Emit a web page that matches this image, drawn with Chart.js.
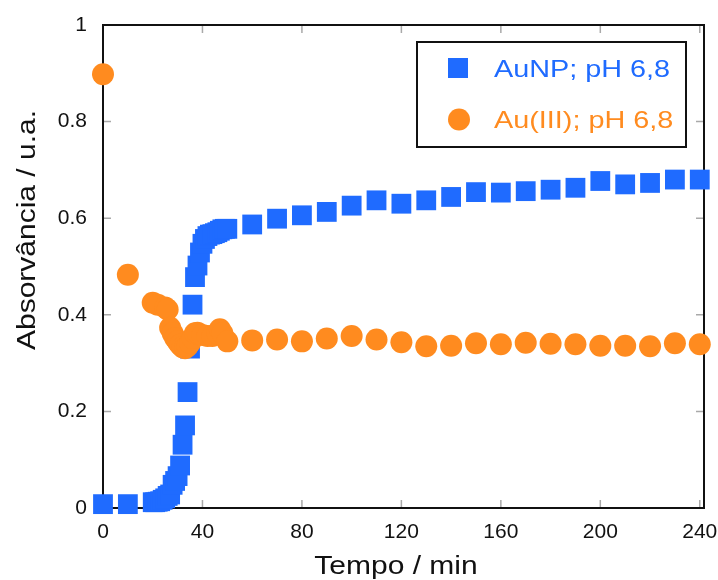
<!DOCTYPE html>
<html>
<head>
<meta charset="utf-8">
<title>Absorvância vs tempo</title>
<script src="https://cdn.jsdelivr.net/npm/chart.js@4.4.1/dist/chart.umd.min.js"></script>
<style>
  html, body { margin: 0; padding: 0; background: #fff; }
  #wrap { width: 718px; height: 580px; }
</style>
</head>
<body>
<div id="wrap"><canvas id="absChart" width="718" height="580"></canvas></div>
<script>
// series labels and axis titles
const seriesLabels = ['AuNP; pH 6,8', 'Au(III); pH 6,8'];
const xTitle = 'Tempo / min';
const yTitle = 'Absorvância / u.a.';

// AuNP (blue squares)
const aunpTime = [0, 10, 20, 21, 22, 23, 24, 25, 26, 27, 28, 29, 30, 31, 32, 33, 34, 35, 36, 37, 38, 39, 40,
  41, 42, 43, 44, 45, 46, 47, 48, 49, 50, 60, 70, 80, 90, 100, 110, 120, 130, 140, 150, 160, 170, 180, 190,
  200, 210, 220, 230, 240];
const aunpAbs = [0.008, 0.008, 0.012, 0.012, 0.013, 0.014, 0.017, 0.020, 0.025, 0.028, 0.048, 0.056, 0.066,
  0.088, 0.131, 0.171, 0.240, 0.330, 0.421, 0.478, 0.502, 0.529, 0.547, 0.557, 0.563, 0.566, 0.567, 0.569,
  0.571, 0.574, 0.577, 0.578, 0.578, 0.587, 0.599, 0.606, 0.613, 0.626, 0.637, 0.630, 0.637, 0.644, 0.654,
  0.653, 0.656, 0.659, 0.663, 0.677, 0.670, 0.673, 0.680, 0.680];

// Au(III) (orange circles)
const au3Time = [0, 10, 20, 22, 25, 26, 27, 28, 29, 30, 31, 32, 33, 34, 35, 36, 37, 38, 40, 42, 44, 46, 47,
  48, 50, 60, 70, 80, 90, 100, 110, 120, 130, 140, 150, 160, 170, 180, 190, 200, 210, 220, 230, 240];
const au3Abs = [0.898, 0.483, 0.425, 0.421, 0.415, 0.411, 0.373, 0.362, 0.352, 0.345, 0.338, 0.333, 0.331,
  0.335, 0.342, 0.352, 0.362, 0.363, 0.358, 0.356, 0.356, 0.362, 0.370, 0.362, 0.345, 0.347, 0.349, 0.345,
  0.351, 0.356, 0.349, 0.343, 0.335, 0.336, 0.341, 0.339, 0.342, 0.340, 0.339, 0.336, 0.336, 0.335, 0.341,
  0.339];

const xTicks = [0, 40, 80, 120, 160, 200, 240];
const yTicks = [0, 0.2, 0.4, 0.6, 0.8, 1];

const blue = '#1f6bff';
const orange = '#ff8b1f';
const fontFam = '"Liberation Sans", Arial, Helvetica, sans-serif';
const stretch = 1.2;

Chart.defaults.font.family = fontFam;

function toPoints(xs, ys) {
  return xs.map((t, i) => ({ x: t, y: ys[i] }));
}

// text is a bit wider in the original, so stretch it horizontally
function wideText(ctx, text, x, y, size, color, align, rotate) {
  ctx.save();
  ctx.translate(x, y);
  if (rotate) ctx.rotate(-Math.PI / 2);
  ctx.scale(stretch, 1);
  ctx.font = size + 'px ' + fontFam;
  ctx.fillStyle = color;
  ctx.textAlign = align;
  ctx.textBaseline = 'alphabetic';
  ctx.fillText(text, 0, 0);
  ctx.restore();
}

// frame, inward ticks on all four sides, legend box and axis titles
const framePlugin = {
  id: 'framePlugin',
  beforeDatasetsDraw(chart) {
    const { ctx, chartArea: a, scales: { x, y } } = chart;
    const len = 8;
    ctx.save();
    ctx.strokeStyle = '#a9a9a9';
    ctx.lineWidth = 1.5;
    ctx.beginPath();
    x.ticks.forEach(t => {
      const px = x.getPixelForValue(t.value);
      ctx.moveTo(px, a.bottom); ctx.lineTo(px, a.bottom - len);
      ctx.moveTo(px, a.top); ctx.lineTo(px, a.top + len);
    });
    y.ticks.forEach(t => {
      const py = y.getPixelForValue(t.value);
      ctx.moveTo(a.left, py); ctx.lineTo(a.left + len, py);
      ctx.moveTo(a.right, py); ctx.lineTo(a.right - len, py);
    });
    ctx.stroke();
    ctx.strokeStyle = '#111';
    ctx.lineWidth = 2;
    ctx.strokeRect(a.left, a.top, a.right - a.left, a.bottom - a.top);
    ctx.restore();
  },
  afterDraw(chart) {
    const { ctx, chartArea: a } = chart;
    // legend
    const bx = a.right - 287, by = a.top + 17, bw = 269, bh = 105;
    ctx.save();
    ctx.fillStyle = '#fff';
    ctx.fillRect(bx, by, bw, bh);
    ctx.strokeStyle = '#111';
    ctx.lineWidth = 2;
    ctx.strokeRect(bx, by, bw, bh);
    ctx.fillStyle = blue;
    ctx.fillRect(bx + 31, by + 16, 20, 20);
    ctx.fillStyle = orange;
    ctx.beginPath();
    ctx.arc(bx + 42, by + 77.5, 11, 0, Math.PI * 2);
    ctx.fill();
    ctx.restore();
    wideText(ctx, seriesLabels[0], bx + 77, by + 34.5, 24, blue, 'left', false);
    wideText(ctx, seriesLabels[1], bx + 77, by + 86, 24, orange, 'left', false);
    // axis titles
    wideText(ctx, xTitle, 396, 574, 25, '#111', 'center', false);
    wideText(ctx, yTitle, 35, 230, 25, '#111', 'center', true);
  }
};

new Chart(document.getElementById('absChart'), {
  type: 'scatter',
  data: {
    datasets: [
      {
        label: seriesLabels[0],
        data: toPoints(aunpTime, aunpAbs),
        pointStyle: 'rect',
        pointRadius: 14,
        backgroundColor: blue,
        borderWidth: 0,
        clip: false,
        order: 1
      },
      {
        label: seriesLabels[1],
        data: toPoints(au3Time, au3Abs),
        pointStyle: 'circle',
        pointRadius: 11,
        backgroundColor: orange,
        borderWidth: 0,
        clip: false,
        order: 0
      }
    ]
  },
  options: {
    responsive: false,
    animation: false,
    events: [],
    devicePixelRatio: 1,
    layout: { padding: { top: 25, right: 13, left: 0, bottom: 0 } },
    plugins: {
      legend: { display: false },
      tooltip: { enabled: false }
    },
    scales: {
      x: {
        type: 'linear',
        min: 0,
        max: 241.7,
        afterBuildTicks: scale => { scale.ticks = xTicks.map(v => ({ value: v })); },
        afterFit: scale => {
          scale.height = 72;
          scale.paddingLeft = 0;
          scale.paddingRight = 0;
        },
        grid: { display: false, drawTicks: false },
        border: { display: false },
        ticks: { padding: 12, color: '#111', font: { size: 21 }, maxRotation: 0, callback: v => String(v) }
      },
      y: {
        type: 'linear',
        min: 0,
        max: 1,
        afterBuildTicks: scale => { scale.ticks = yTicks.map(v => ({ value: v })); },
        afterFit: scale => {
          scale.width = 103;
          scale.paddingTop = 0;
          scale.paddingBottom = 0;
        },
        grid: { display: false, drawTicks: false },
        border: { display: false },
        ticks: { padding: 16, color: '#111', font: { size: 21 }, callback: v => String(v) }
      }
    }
  },
  plugins: [framePlugin]
});
</script>
</body>
</html>
